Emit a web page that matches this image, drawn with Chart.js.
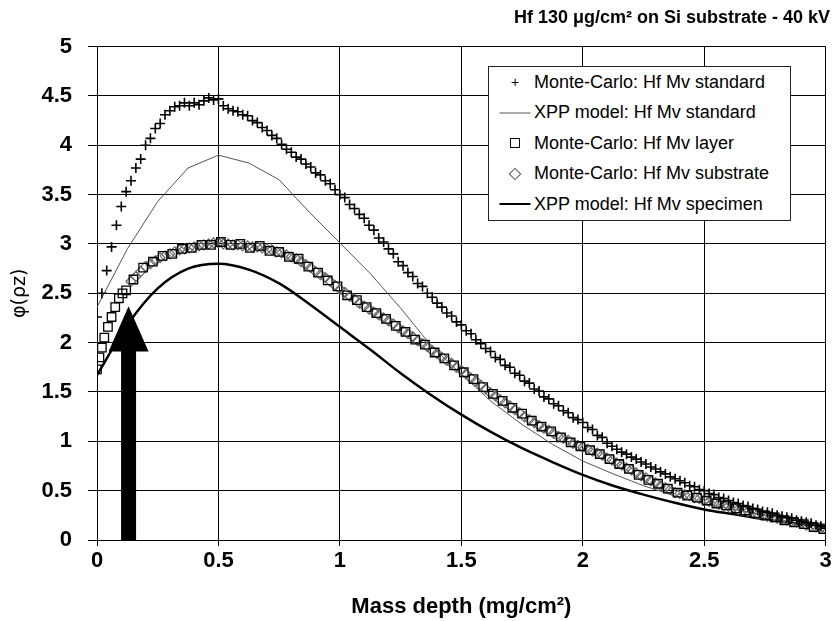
<!DOCTYPE html>
<html>
<head>
<meta charset="utf-8">
<title>phi(rho z) - Hf 130 ug/cm2 on Si</title>
<script src="https://cdn.jsdelivr.net/npm/chart.js@4.4.0/dist/chart.umd.min.js"></script>
<style>
    body { margin: 0; background: #fff; }
    #wrap { position: relative; width: 833px; height: 621px; }
    #custom-legend {
        position: absolute; left: 488px; top: 66px;
        width: 301px; height: 153px;
        border: 1px solid #222; background: #fff;
        font: 18px "Liberation Sans", Arial, sans-serif; color: #000;
    }
    .legend-item { height: 30.5px; display: flex; align-items: center; }
    .legend-symbol { width: 32px; margin-left: 10px; margin-right: 3px; height: 20px; position: relative; }
    .legend-symbol span { position: absolute; left: 50%; top: 50%; transform: translate(-50%, -50%); }
    .sym-plus { font-size: 14px; line-height: 14px; }
    .sym-square { width: 8px; height: 8px; border: 1px solid #000; }
    .sym-diamond { width: 7px; height: 7px; border: 1px solid #555; transform: translate(-50%, -50%) rotate(45deg) !important; }
    .sym-line { width: 31px; }
</style>
</head>
<body>
<div id="wrap">
    <canvas id="phiChart" width="833" height="621"></canvas>
    <div id="custom-legend"></div>
</div>
<script>
// mass depth grid of the Monte-Carlo runs (mg/cm2), step 0.02
const depth = Array.from({ length: 151 }, (_, i) => +(i * 0.02).toFixed(2));

// Monte-Carlo: Hf Mv standard (pluses)
const mcStandard = [
    2.26, 2.50, 2.73, 2.97, 3.19, 3.38, 3.53, 3.64, 3.77, 3.86,
    4.00, 4.07, 4.17, 4.22, 4.31, 4.35, 4.39, 4.40, 4.43, 4.40,
    4.43, 4.41, 4.45, 4.48, 4.46, 4.47, 4.40, 4.37, 4.35, 4.34,
    4.31, 4.30, 4.25, 4.23, 4.18, 4.15, 4.10, 4.07, 4.01, 3.96,
    3.93, 3.88, 3.86, 3.81, 3.78, 3.72, 3.70, 3.64, 3.61, 3.55,
    3.50, 3.47, 3.40, 3.36, 3.30, 3.26, 3.19, 3.14, 3.06, 3.02,
    2.95, 2.90, 2.82, 2.78, 2.71, 2.67, 2.60, 2.57, 2.50, 2.46,
    2.40, 2.36, 2.30, 2.27, 2.21, 2.18, 2.12, 2.09, 2.03, 1.99,
    1.94, 1.91, 1.85, 1.83, 1.77, 1.75, 1.69, 1.67, 1.61, 1.59,
    1.53, 1.51, 1.45, 1.43, 1.38, 1.36, 1.31, 1.29, 1.24, 1.22,
    1.19, 1.14, 1.12, 1.06, 1.04, 0.98, 0.95, 0.92, 0.89, 0.87,
    0.84, 0.82, 0.79, 0.77, 0.74, 0.72, 0.69, 0.67, 0.64, 0.62,
    0.60, 0.58, 0.55, 0.54, 0.51, 0.50, 0.47, 0.46, 0.43, 0.42,
    0.40, 0.38, 0.37, 0.35, 0.34, 0.32, 0.31, 0.29, 0.28, 0.27,
    0.25, 0.24, 0.23, 0.22, 0.20, 0.19, 0.18, 0.17, 0.15, 0.14,
    0.12
];

// Monte-Carlo: Hf Mv layer (squares)
const layerDepth = [
    0, 0.01, 0.02, 0.03, 0.045, 0.06, 0.075, 0.09, 0.105, 0.12,
    0.15, 0.19, 0.23, 0.27, 0.31, 0.35, 0.39, 0.43, 0.47, 0.51,
    0.55, 0.59, 0.63, 0.67, 0.71, 0.75, 0.79, 0.83, 0.87, 0.91,
    0.95, 0.99, 1.03, 1.07, 1.11, 1.15, 1.19, 1.23, 1.27, 1.31,
    1.35, 1.39, 1.43, 1.47, 1.51, 1.55, 1.59, 1.63, 1.67, 1.71,
    1.75, 1.79, 1.83, 1.87, 1.91, 1.95, 1.99, 2.03, 2.07, 2.11,
    2.15, 2.19, 2.23, 2.27, 2.31, 2.35, 2.39, 2.43, 2.47, 2.51,
    2.55, 2.59, 2.63, 2.67, 2.71, 2.75, 2.79, 2.83, 2.87, 2.91,
    2.95, 2.99
];
const mcLayer = [
    1.73, 1.85, 1.95, 2.05, 2.16, 2.26, 2.36, 2.45, 2.50, 2.53,
    2.64, 2.76, 2.82, 2.88, 2.90, 2.95, 2.96, 2.99, 2.99, 3.02,
    2.99, 3.00, 2.96, 2.98, 2.93, 2.92, 2.87, 2.85, 2.77, 2.71,
    2.63, 2.57, 2.48, 2.43, 2.36, 2.30, 2.24, 2.17, 2.11, 2.03,
    1.98, 1.90, 1.84, 1.77, 1.70, 1.63, 1.55, 1.48, 1.41, 1.34,
    1.28, 1.21, 1.15, 1.10, 1.04, 0.99, 0.95, 0.91, 0.87, 0.82,
    0.77, 0.72, 0.66, 0.61, 0.57, 0.52, 0.48, 0.45, 0.43, 0.40,
    0.37, 0.35, 0.32, 0.30, 0.27, 0.25, 0.23, 0.20, 0.18, 0.16,
    0.13, 0.11
];

// Monte-Carlo: Hf Mv substrate (diamonds), from 0.14 mg/cm2 on
const substrateDepth = depth.slice(7);
const mcSubstrate = [
    2.62, 2.67, 2.72, 2.77, 2.80, 2.83, 2.86, 2.88, 2.90, 2.92,
    2.94, 2.95, 2.96, 2.97, 2.98, 2.99, 3.00, 3.01, 3.01, 3.00,
    3.00, 2.99, 2.99, 2.98, 2.98, 2.97, 2.97, 2.96, 2.95, 2.94,
    2.92, 2.91, 2.89, 2.87, 2.85, 2.82, 2.79, 2.76, 2.72, 2.69,
    2.66, 2.62, 2.58, 2.54, 2.51, 2.47, 2.44, 2.40, 2.37, 2.34,
    2.31, 2.28, 2.25, 2.22, 2.19, 2.15, 2.12, 2.09, 2.06, 2.02,
    1.99, 1.96, 1.92, 1.89, 1.85, 1.82, 1.79, 1.75, 1.72, 1.68,
    1.64, 1.61, 1.57, 1.53, 1.49, 1.46, 1.42, 1.39, 1.36, 1.32,
    1.29, 1.25, 1.22, 1.19, 1.16, 1.13, 1.11, 1.08, 1.05, 1.03,
    1.01, 0.98, 0.96, 0.94, 0.92, 0.90, 0.88, 0.86, 0.83, 0.81,
    0.78, 0.76, 0.73, 0.71, 0.68, 0.65, 0.63, 0.60, 0.58, 0.55,
    0.53, 0.51, 0.48, 0.47, 0.46, 0.45, 0.43, 0.42, 0.40, 0.39,
    0.38, 0.36, 0.35, 0.34, 0.33, 0.31, 0.30, 0.29, 0.28, 0.26,
    0.25, 0.24, 0.23, 0.22, 0.21, 0.20, 0.19, 0.18, 0.17, 0.15,
    0.14, 0.13, 0.12, 0.11
];

// XPP model curves, computed every 0.125 mg/cm2
const xppDepth = [
    0, 0.125, 0.25, 0.375, 0.5, 0.625, 0.75, 0.875, 1, 1.125,
    1.25, 1.375, 1.5, 1.625, 1.75, 1.875, 2, 2.125, 2.25, 2.375,
    2.5, 2.625, 2.75, 2.875, 3
];
const xppStandard = [
    2.36, 2.95, 3.43, 3.77, 3.90, 3.82, 3.65, 3.32, 3.01, 2.70,
    2.35, 1.97, 1.68, 1.40, 1.17, 0.97, 0.80, 0.67, 0.55, 0.45,
    0.37, 0.31, 0.25, 0.20, 0.16
];
const xppSpecimen = [
    1.67, 2.18, 2.55, 2.75, 2.80, 2.74, 2.60, 2.39, 2.16, 1.93,
    1.69, 1.47, 1.27, 1.09, 0.93, 0.79, 0.66, 0.55, 0.46, 0.38,
    0.31, 0.26, 0.21, 0.17, 0.14
];

// arrow pointing at the Hf layer (data units)
const arrowDepth = 0.13;
const arrowTip = 2.37;
const arrowHeadBase = 1.91;

const toPoints = (xs, ys) => ys.map((v, i) => ({ x: xs[i], y: v }));
const plainTick = (value) => String(+Number(value).toFixed(2));

const arrowPlugin = {
    id: 'layerArrow',
    afterDatasetsDraw(chart) {
        const { ctx, scales: { x, y } } = chart;
        const cx = x.getPixelForValue(arrowDepth);
        const yTip = y.getPixelForValue(arrowTip);
        const yBase = y.getPixelForValue(arrowHeadBase);
        const y0 = y.getPixelForValue(0);
        ctx.save();
        ctx.fillStyle = '#000';
        ctx.beginPath();
        ctx.moveTo(cx - 7.5, y0);
        ctx.lineTo(cx - 7.5, yBase);
        ctx.lineTo(cx - 20, yBase);
        ctx.lineTo(cx, yTip);
        ctx.lineTo(cx + 20, yBase);
        ctx.lineTo(cx + 7.5, yBase);
        ctx.lineTo(cx + 7.5, y0);
        ctx.closePath();
        ctx.fill();
        ctx.restore();
    }
};

document.addEventListener('DOMContentLoaded', function() {
    const canvas = document.getElementById('phiChart');
    const customLegendContainer = document.getElementById('custom-legend');
    const ctx = canvas.getContext('2d');

    const tickFont = { family: '"Liberation Sans", Arial, sans-serif', size: 22, weight: 'bold' };

    new Chart(ctx, {
        type: 'scatter',
        data: {
            datasets: [
                {
                    label: 'Monte-Carlo: Hf Mv standard',
                    data: toPoints(depth, mcStandard),
                    pointStyle: 'cross', pointRadius: 5, borderColor: '#000', borderWidth: 1.6,
                    showLine: false, order: 1
                },
                {
                    label: 'XPP model: Hf Mv standard',
                    data: toPoints(xppDepth, xppStandard),
                    showLine: true, pointRadius: 0, borderColor: '#555', borderWidth: 1,
                    tension: 0, order: 4
                },
                {
                    label: 'Monte-Carlo: Hf Mv layer',
                    data: toPoints(layerDepth, mcLayer),
                    pointStyle: 'rect', pointRadius: 6, borderColor: '#000', borderWidth: 1.3,
                    backgroundColor: 'rgba(0,0,0,0)', showLine: false, order: 2
                },
                {
                    label: 'Monte-Carlo: Hf Mv substrate',
                    data: toPoints(substrateDepth, mcSubstrate),
                    pointStyle: 'rectRot', pointRadius: 5, borderColor: '#666', borderWidth: 1.2,
                    backgroundColor: 'rgba(0,0,0,0)', showLine: false, order: 3
                },
                {
                    label: 'XPP model: Hf Mv specimen',
                    data: toPoints(xppDepth, xppSpecimen),
                    showLine: true, pointRadius: 0, borderColor: '#000', borderWidth: 2.5,
                    cubicInterpolationMode: 'monotone', order: 5
                }
            ]
        },
        options: {
            responsive: false,
            animation: false,
            layout: { padding: { left: 0, right: 3, top: 0, bottom: 0 } },
            plugins: {
                legend: { display: false },
                tooltip: { enabled: false },
                title: {
                    display: true,
                    text: 'Hf 130 \u03bcg/cm\u00b2 on Si substrate - 40 kV',
                    align: 'end',
                    color: '#000',
                    font: { family: '"Liberation Sans", Arial, sans-serif', size: 18, weight: 'bold', lineHeight: 1.2 },
                    padding: { top: 7, bottom: 18 }
                }
            },
            scales: {
                x: {
                    type: 'linear', min: 0, max: 3,
                    ticks: { stepSize: 0.5, color: '#000', font: tickFont, padding: 2, maxRotation: 0, callback: plainTick },
                    grid: { color: '#000', lineWidth: 1, tickLength: 6, tickColor: '#000' },
                    border: { color: '#000', width: 1 },
                    title: {
                        display: true, text: 'Mass depth (mg/cm\u00b2)', color: '#000',
                        font: tickFont, padding: { top: 0, bottom: 1 }
                    },
                    afterFit: (scale) => { scale.height = 81; scale.paddingRight = 0; }
                },
                y: {
                    type: 'linear', min: 0, max: 5,
                    ticks: { stepSize: 0.5, color: '#000', font: tickFont, padding: 16, callback: plainTick },
                    grid: { color: '#000', lineWidth: 1, tickLength: 9, tickColor: '#000' },
                    border: { color: '#000', width: 1 },
                    title: {
                        display: true, text: '\u03c6(\u03c1z)', color: '#000',
                        font: { family: '"DejaVu Sans", sans-serif', size: 19 },
                        padding: { top: 9, bottom: 0 }
                    },
                    afterFit: (scale) => { scale.width = 97; }
                }
            }
        },
        plugins: [arrowPlugin]
    });

    // legenda em HTML por cima do gráfico
    const legendRows = [
        { kind: 'plus', label: 'Monte-Carlo: Hf Mv standard' },
        { kind: 'thin', label: 'XPP model: Hf Mv standard' },
        { kind: 'square', label: 'Monte-Carlo: Hf Mv layer' },
        { kind: 'diamond', label: 'Monte-Carlo: Hf Mv substrate' },
        { kind: 'thick', label: 'XPP model: Hf Mv specimen' }
    ];
    legendRows.forEach(row => {
        const item = document.createElement('div');
        item.className = 'legend-item';
        let symbol = '';
        if (row.kind === 'plus') symbol = '<span class="sym-plus">+</span>';
        if (row.kind === 'square') symbol = '<span class="sym-square"></span>';
        if (row.kind === 'diamond') symbol = '<span class="sym-diamond"></span>';
        if (row.kind === 'thin') symbol = '<span class="sym-line" style="border-top:1px solid #555"></span>';
        if (row.kind === 'thick') symbol = '<span class="sym-line" style="border-top:2.5px solid #000"></span>';
        item.innerHTML = `<div class="legend-symbol">${symbol}</div><span class="legend-label">${row.label}</span>`;
        customLegendContainer.appendChild(item);
    });
});
</script>
</body>
</html>
